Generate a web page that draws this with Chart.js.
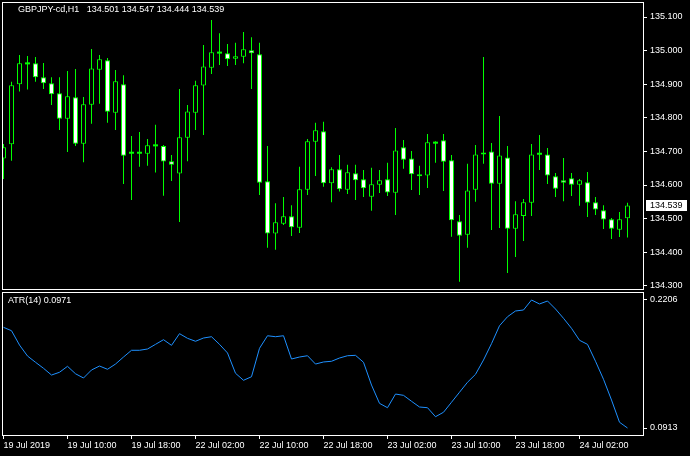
<!DOCTYPE html>
<html>
<head>
<meta charset="utf-8">
<script src="https://cdn.jsdelivr.net/npm/chart.js@4.4.0/dist/chart.umd.min.js"></script>
<style>
  html, body { margin: 0; padding: 0; background: #000; }
  #wrap { position: relative; width: 690px; height: 456px; overflow: hidden; background: #000; }
  canvas { position: absolute; left: 0; }
</style>
</head>
<body>
<div id="wrap">
  <canvas id="priceChart" width="690" height="291" style="top:0"></canvas>
  <canvas id="atrChart" width="690" height="165" style="top:291px"></canvas>
</div>
<script>
// GBPJPY H1 candles, one per bar (bar 0 = 19 Jul 02:00)
const symbol = 'GBPJPY-cd,H1';
const openP = [
  134.679, 134.721, 134.900, 134.962, 134.962, 134.921, 134.903, 134.873, 134.797, 134.861,
  134.723, 134.839, 134.943, 134.971, 134.815, 134.900, 134.696, 134.696, 134.693, 134.718,
  134.716, 134.671, 134.634, 134.741, 134.815, 134.896, 134.949, 134.994, 134.992, 134.976,
  134.982, 135.001, 134.989, 134.611, 134.456, 134.485, 134.507, 134.473, 134.586, 134.729,
  134.760, 134.605, 134.647, 134.586, 134.635, 134.617, 134.565, 134.601, 134.617, 134.577,
  134.712, 134.679, 134.632, 134.628, 134.726, 134.733, 134.674, 134.492, 134.452, 134.586,
  134.697, 134.700, 134.604, 134.682, 134.470, 134.508, 134.547, 134.693, 134.691, 134.626,
  134.614, 134.620, 134.601, 134.608, 134.549, 134.525, 134.498, 134.467, 134.501
];
const highP = [
  134.722, 134.907, 134.987, 134.984, 134.981, 134.963, 134.921, 134.921, 134.939, 134.945,
  134.862, 135.005, 134.987, 134.978, 134.942, 134.927, 134.746, 134.758, 134.737, 134.779,
  134.719, 134.689, 134.886, 134.838, 134.910, 135.017, 135.091, 135.052, 135.020, 135.023,
  135.055, 135.040, 135.023, 134.716, 134.546, 134.564, 134.540, 134.654, 134.737, 134.785,
  134.788, 134.653, 134.689, 134.660, 134.660, 134.645, 134.651, 134.645, 134.666, 134.770,
  134.734, 134.701, 134.657, 134.752, 134.730, 134.752, 134.689, 134.511, 134.663, 134.719,
  134.981, 134.725, 134.805, 134.716, 134.552, 134.558, 134.722, 134.749, 134.710, 134.636,
  134.680, 134.636, 134.618, 134.639, 134.564, 134.540, 134.502, 134.520, 134.547
];
const lowP = [
  134.618, 134.672, 134.878, 134.884, 134.907, 134.886, 134.838, 134.764, 134.698, 134.716,
  134.668, 134.782, 134.842, 134.785, 134.764, 134.603, 134.555, 134.654, 134.657, 134.637,
  134.568, 134.612, 134.490, 134.671, 134.764, 134.749, 134.930, 134.957, 134.954, 134.957,
  134.962, 134.886, 134.570, 134.413, 134.407, 134.481, 134.448, 134.457, 134.570, 134.627,
  134.595, 134.549, 134.581, 134.573, 134.555, 134.564, 134.523, 134.576, 134.567, 134.511,
  134.648, 134.585, 134.570, 134.591, 134.666, 134.582, 134.446, 134.312, 134.413, 134.550,
  134.663, 134.466, 134.472, 134.338, 134.386, 134.433, 134.508, 134.645, 134.603, 134.564,
  134.552, 134.567, 134.538, 134.505, 134.511, 134.469, 134.439, 134.445, 134.444
];
const closeP = [
  134.712, 134.897, 134.962, 134.962, 134.921, 134.903, 134.870, 134.797, 134.864, 134.723,
  134.840, 134.947, 134.974, 134.818, 134.909, 134.687, 134.696, 134.696, 134.718, 134.718,
  134.670, 134.660, 134.742, 134.819, 134.897, 134.953, 134.995, 134.994, 134.974, 134.983,
  135.004, 134.992, 134.607, 134.456, 134.489, 134.507, 134.474, 134.587, 134.730, 134.763,
  134.605, 134.647, 134.587, 134.638, 134.614, 134.590, 134.602, 134.614, 134.578, 134.703,
  134.675, 134.632, 134.626, 134.727, 134.726, 134.669, 134.495, 134.449, 134.584, 134.691,
  134.691, 134.604, 134.688, 134.470, 134.513, 134.549, 134.691, 134.693, 134.628, 134.589,
  134.607, 134.601, 134.614, 134.547, 134.527, 134.497, 134.470, 134.498, 134.539
];
const atrValues = [
  0.1930, 0.1896, 0.1751, 0.1640, 0.1577, 0.1516, 0.1448, 0.1476, 0.1536, 0.1461,
  0.1418, 0.1499, 0.1539, 0.1506, 0.1559, 0.1630, 0.1698, 0.1698, 0.1711, 0.1758,
  0.1805, 0.1748, 0.1866, 0.1819, 0.1789, 0.1822, 0.1835, 0.1758, 0.1671, 0.1466,
  0.1395, 0.1431, 0.1718, 0.1845, 0.1835, 0.1845, 0.1610, 0.1630, 0.1643, 0.1559,
  0.1580, 0.1587, 0.1620, 0.1643, 0.1647, 0.1577, 0.1347, 0.1162, 0.1118, 0.1256,
  0.1243, 0.1183, 0.1125, 0.1118, 0.1027, 0.1072, 0.1173, 0.1274, 0.1375, 0.1455,
  0.1600, 0.1765, 0.1946, 0.2037, 0.2095, 0.2105, 0.2206, 0.2166, 0.2196, 0.2115,
  0.2021, 0.1920, 0.1799, 0.1758, 0.1587, 0.1405, 0.1196, 0.0971, 0.0913
];
const atrLabelValue = 0.0971;
const priceTicks = [134.3, 134.4, 134.5, 134.6, 134.7, 134.8, 134.9, 135.0, 135.1];
const atrTicks = [0.2206, 0.0913];
const timeLabels = ['19 Jul 2019', '19 Jul 10:00', '19 Jul 18:00', '22 Jul 02:00', '22 Jul 10:00',
                    '22 Jul 18:00', '23 Jul 02:00', '23 Jul 10:00', '23 Jul 18:00', '24 Jul 02:00'];
const timeLabelBars = [0, 8, 16, 24, 32, 40, 48, 56, 64, 72];

const FONT = "9px 'Liberation Sans', Arial, sans-serif";
const GREEN = '#00ff00';
Chart.defaults.font.family = "'Liberation Sans', Arial, sans-serif";
Chart.defaults.font.size = 9;
Chart.defaults.color = '#fff';

// x range: 8 px per bar, 80 bar slots in the 640 px plot
const xMin = -0.0625, xMax = 79.9375;

const frame = {
  id: 'frame',
  afterDraw(chart) {
    const { ctx, chartArea: a } = chart;
    ctx.save();
    ctx.strokeStyle = '#fff';
    ctx.lineWidth = 1;
    ctx.strokeRect(a.left - 0.5, a.top - 0.5, a.right - a.left + 1, a.bottom - a.top + 1);
    ctx.restore();
  }
};

const priceText = {
  id: 'priceText',
  afterDraw(chart) {
    const { ctx } = chart;
    const n = closeP.length - 1;
    const ohlc = [openP[n], highP[n], lowP[n], closeP[n]].map(v => v.toFixed(3)).join(' ');
    ctx.save();
    ctx.font = FONT;
    ctx.textBaseline = 'middle';
    ctx.fillStyle = '#fff';
    ctx.fillText(symbol + '   ' + ohlc, 18, 10);
    // current price box on the axis
    const y = Math.round(chart.scales.y.getPixelForValue(closeP[n]));
    const x = chart.chartArea.right + 3;
    ctx.fillRect(x, y - 5, 41, 11);
    ctx.fillStyle = '#000';
    ctx.fillText(closeP[n].toFixed(3), x + 4, y + 0.5);
    ctx.restore();
  }
};

const atrText = {
  id: 'atrText',
  afterDraw(chart) {
    const { ctx } = chart;
    ctx.save();
    ctx.font = FONT;
    ctx.textBaseline = 'middle';
    ctx.fillStyle = '#fff';
    ctx.fillText('ATR(14) ' + atrLabelValue.toFixed(4), 8, 10);
    ctx.restore();
  }
};

const bodies = [], dojis = [], wicks = [];
openP.forEach((o, i) => {
  wicks.push({ x: i, y: [lowP[i], highP[i]] });
  if (o === closeP[i]) dojis.push({ x: i, y: o });
  else bodies.push({ x: i, y: [o, closeP[i]] });
});

new Chart(document.getElementById('priceChart'), {
  type: 'bar',
  data: {
    datasets: [{
      data: bodies,
      grouped: false,
      barThickness: 5,
      inflateAmount: 0,
      borderWidth: 1,
      borderSkipped: false,
      borderColor: GREEN,
      backgroundColor: c => (c.raw && c.raw.y[1] > c.raw.y[0]) ? '#000' : '#fff',
      clip: 0
    }, {
      type: 'scatter',
      data: dojis,
      pointStyle: 'line',
      pointRadius: 2.5,
      pointBorderWidth: 2,
      pointBorderColor: GREEN,
      clip: 0
    }, {
      data: wicks,
      grouped: false,
      barThickness: 1,
      inflateAmount: 0,
      borderWidth: 0,
      backgroundColor: GREEN,
      clip: 0
    }]
  },
  options: {
    responsive: false,
    animation: false,
    events: [],
    layout: { autoPadding: false, padding: { left: 3, top: 3, right: 0, bottom: 2 } },
    plugins: { legend: { display: false }, tooltip: { enabled: false } },
    scales: {
      x: { type: 'linear', display: false, min: xMin, max: xMax, offset: false },
      y: {
        position: 'right',
        min: 134.29048,
        max: 135.14167,
        afterBuildTicks: s => { s.ticks = priceTicks.map(v => ({ value: v })); },
        afterFit: s => { s.width = 47; s.paddingTop = 0; s.paddingBottom = 0; },
        ticks: { color: '#fff', padding: 3, callback: v => Number(v).toFixed(3) },
        grid: { drawOnChartArea: false, drawTicks: true, tickLength: 4, color: '#fff' },
        border: { display: false }
      }
    }
  },
  plugins: [frame, priceText]
});

new Chart(document.getElementById('atrChart'), {
  type: 'line',
  data: {
    datasets: [{
      data: atrValues.map((v, i) => ({ x: i, y: v })),
      borderColor: '#1e90ff',
      borderWidth: 1,
      pointRadius: 0,
      tension: 0,
      fill: false
    }]
  },
  options: {
    responsive: false,
    animation: false,
    events: [],
    layout: { autoPadding: false, padding: { left: 3, top: 2, right: 0, bottom: 0 } },
    plugins: { legend: { display: false }, tooltip: { enabled: false } },
    scales: {
      x: {
        type: 'linear',
        min: xMin,
        max: xMax,
        offset: false,
        afterBuildTicks: s => { s.ticks = timeLabelBars.map(v => ({ value: v })); },
        afterFit: s => { s.height = 21; s.paddingLeft = 0; s.paddingRight = 0; },
        ticks: {
          color: '#fff', align: 'start', autoSkip: false, maxRotation: 0, padding: 1,
          callback: (v, i) => timeLabels[i]
        },
        grid: { drawOnChartArea: false, drawTicks: true, tickLength: 4, color: '#fff' },
        border: { display: false }
      },
      y: {
        position: 'right',
        min: 0.08423,
        max: 0.22767,
        afterBuildTicks: s => { s.ticks = atrTicks.map(v => ({ value: v })); },
        afterFit: s => { s.width = 47; s.paddingTop = 0; s.paddingBottom = 0; },
        ticks: { color: '#fff', padding: 3, callback: v => Number(v).toFixed(4) },
        grid: { drawOnChartArea: false, drawTicks: true, tickLength: 4, color: '#fff' },
        border: { display: false }
      }
    }
  },
  plugins: [frame, atrText]
});
</script>
</body>
</html>
